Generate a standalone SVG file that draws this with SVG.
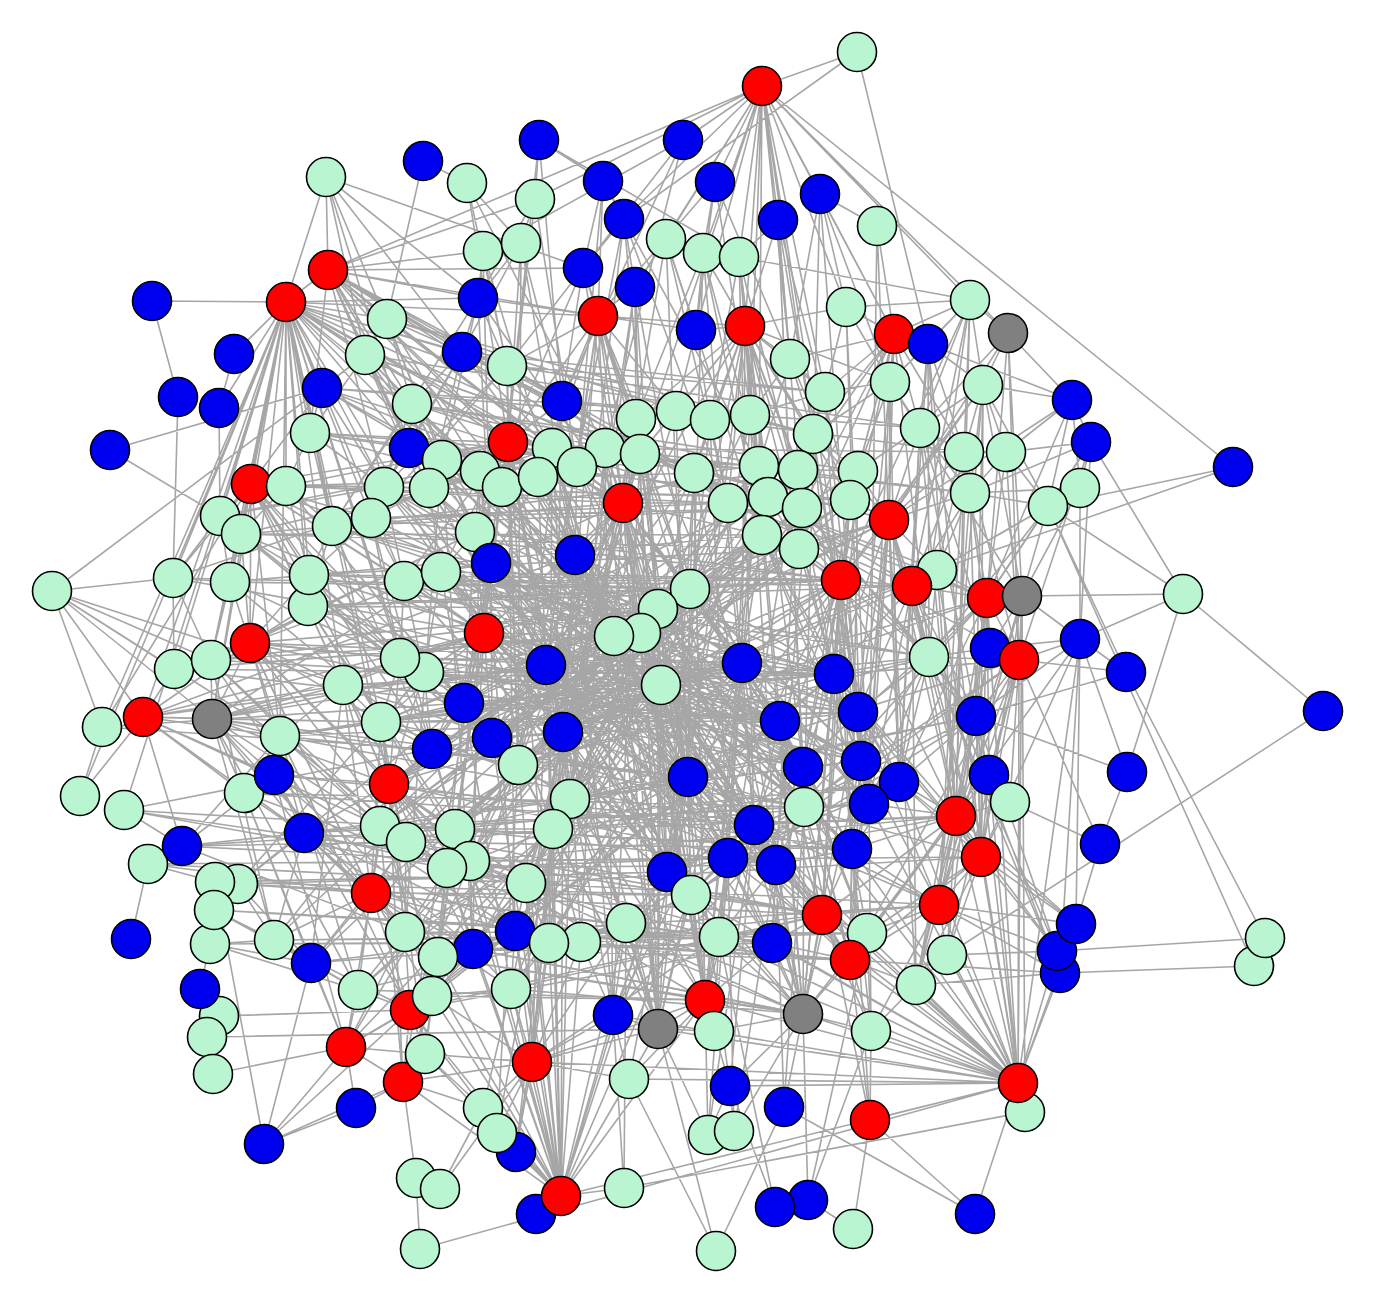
<svg xmlns="http://www.w3.org/2000/svg" width="1376" height="1304" viewBox="0 0 1376 1304">
<style>
.e{fill:none;stroke:#a6a6a6;stroke-width:1.6;stroke-linejoin:round;stroke-linecap:round}
circle{stroke:#000;stroke-width:1.6}
.m{fill:#b8f5d0}.b{fill:#0000f0}.r{fill:#ff0000}.g{fill:#808080}
</style>
<rect width="1376" height="1304" fill="#ffffff"/>
<g id="edges">
<path class="e" d="M762 86L857 52L624 219M928 344L857 52
M328 270L762 86L683 140M715 182L762 86L624 219M666 239L762 86L703 253M739 257L762 86L778 220M820 194L762 86L846 307M894 334L762 86L745 326M790 359L762 86L825 392M1008 333L762 86L970 300M1233 467L762 86L750 415M696 330L762 86L813 434M635 287L762 86L535 199M759 466L762 86L623 503M841 580L762 86
M603 181L539 140L535 199M739 257L539 140
M483 251L683 140L583 268
M387 319L423 161L467 183
M286 302L326 177L328 270M583 268L326 177L462 352M365 355L326 177L478 298
M521 243L467 183L507 366
M624 219L603 181L598 316M583 268L603 181
M703 253L715 182L666 239M696 330L715 182
M846 307L820 194L890 382M790 359L820 194L894 334
M521 243L535 199L328 270M478 298L535 199
M635 287L624 219L583 268
M739 257L778 220L745 326M790 359L778 220L813 434
M894 334L877 226L820 194
M635 287L666 239L598 316M696 330L666 239
M478 298L521 243L462 352M508 442L521 243L562 401
M478 298L483 251L328 270M507 366L483 251
M696 330L703 253L745 326M636 419L703 253
M745 326L739 257L710 420M739 257L970 300
M286 302L328 270L387 319M365 355L328 270L478 298M462 352L328 270L507 366M583 268L328 270L598 316M562 401L328 270L508 442M310 433L328 270L412 404M384 487L328 270L552 448M605 448L328 270L640 454M623 503L328 270L575 555M484 633L328 270
M598 316L583 268L507 366M562 401L583 268L508 442
M598 316L635 287L636 419M640 454L635 287
M286 302L152 301L178 397
"/>
<path class="e" d="M234 354L286 302L322 388M219 408L286 302L251 484M220 516L286 302L241 534M173 578L286 302L230 582M250 643L286 302L211 660M174 669L286 302L143 717M212 719L286 302L387 319M365 355L286 302L412 404M478 298L286 302L462 352M507 366L286 302L409 448M442 460L286 302L508 442M562 401L286 302L552 448M605 448L286 302L598 316M577 467L286 302L480 471M310 433L286 302L286 486M384 487L286 302L332 526M371 518L286 302L309 575M308 606L286 302L280 736M381 722L286 302L343 685M102 727L286 302L80 796M124 810L286 302L484 633M404 581L286 302L400 658M389 784L286 302L432 749
M462 352L478 298L507 366M598 316L478 298
M890 382L846 307L825 392M894 334L846 307L745 326
M928 344L970 300L894 334M983 385L970 300L890 382M920 428L970 300L846 307M964 452L970 300
M507 366L598 316L562 401M636 419L598 316L676 411M508 442L598 316L552 448M605 448L598 316L640 454M577 467L598 316L623 503M745 326L598 316L696 330M742 663L598 316L688 777M546 665L598 316L563 732M690 589L598 316
M365 355L387 319L462 352M412 404L387 319
M745 326L696 330L676 411M710 420L696 330
M790 359L745 326L825 392M710 420L745 326L750 415M813 434L745 326L676 411M759 466L745 326L798 470M694 473L745 326L728 503M768 497L745 326L640 454M890 382L745 326L762 535M802 508L745 326L850 500M841 580L745 326L636 419M742 663L745 326L780 721M690 589L745 326L834 674
M928 344L894 334L890 382M825 392L894 334L813 434M920 428L894 334L790 359M858 471L894 334L850 500M889 520L894 334L964 452M798 470L894 334L802 508M841 580L894 334L799 549
M890 382L928 344L983 385M920 428L928 344L1072 400M964 452L928 344
M1072 400L1008 333L920 428M1022 596L1008 333L970 300M983 385L1008 333L987 598M1019 660L1008 333L889 520
M219 408L234 354
M322 388L365 355L412 404M310 433L365 355L409 448M442 460L365 355
M507 366L462 352L412 404M409 448L462 352
M562 401L507 366L508 442M552 448L507 366
M825 392L790 359L750 415M813 434L790 359L759 466
M310 433L322 388L110 450M52 591L322 388L251 484M384 487L322 388
M178 397L173 578M219 408L220 516
M825 392L890 382L920 428M813 434L890 382L858 471
M1072 400L983 385L920 428M964 452L983 385L1006 452M970 493L983 385L1048 506
M813 434L825 392L798 470M750 415L825 392
M1006 452L1072 400L1080 488M1048 506L1072 400
M508 442L562 401L552 448M605 448L562 401L577 467
M409 448L412 404L442 460M384 487L412 404L429 488
M676 411L636 419L605 448M640 454L636 419L623 503
M710 420L676 411L640 454M694 473L676 411
M750 415L710 420L694 473M728 503L710 420
M759 466L750 415L768 497
M286 486L310 433L384 487M332 526L310 433
M798 470L813 434L858 471M802 508L813 434
M964 452L920 428L858 471M889 520L920 428L970 493
M1072 400L1091 442L1006 452M1080 488L1091 442L1048 506M1183 594L1091 442L1019 660M1080 639L1091 442
M110 450L220 516
M442 460L409 448L384 487M429 488L409 448L480 471
"/>
<path class="e" d="M552 448L508 442L442 460M480 471L508 442L502 487M538 477L508 442L577 467M429 488L508 442L475 532M491 563L508 442L575 555M484 633L508 442L441 572M404 581L508 442L623 503M605 448L508 442L546 665M563 732L508 442L464 703M518 765L508 442
M605 448L552 448L538 477M577 467L552 448L623 503M575 555L552 448L614 636
M640 454L605 448L577 467M623 503L605 448
M694 473L640 454L623 503M690 589L640 454L658 609
M480 471L442 460L429 488M475 532L442 460
M1006 452L964 452L970 493M889 520L964 452L937 570
M970 493L1006 452L1048 506M987 598L1006 452
M1048 506L1233 467L937 570
M286 486L251 484L220 516M241 534L251 484L332 526M173 578L251 484L230 582M309 575L251 484L308 606M250 643L251 484L211 660M384 487L251 484L371 518M404 581L251 484L400 658M343 685L251 484L280 736M212 719L251 484L484 633M389 784L251 484L381 722M432 749L251 484
M384 487L286 486L241 534M332 526L286 486L309 575
M502 487L480 471L538 477M429 488L480 471L475 532M491 563L480 471
M538 477L502 487L475 532M491 563L502 487L575 555
M577 467L538 477L623 503M491 563L538 477L575 555M546 665L538 477L614 636
M623 503L577 467L575 555
M429 488L384 487L332 526M371 518L384 487L404 581
M371 518L429 488L475 532M441 572L429 488
M759 466L694 473L623 503M728 503L694 473L690 589M762 535L694 473L658 609
M798 470L759 466L728 503M768 497L759 466
M768 497L798 470L802 508M850 500L798 470
M850 500L858 471L889 520M802 508L858 471
M1048 506L970 493L889 520M937 570L970 493L987 598
M1048 506L1080 488L1022 596M1080 639L1080 488
M1183 594L1048 506L987 598M1022 596L1048 506L1126 672M1254 966L1048 506
M575 555L623 503L690 589M658 609L623 503L641 633M614 636L623 503L728 503M491 563L623 503L484 633M546 665L623 503L661 685M742 663L623 503L762 535M688 777L623 503L754 825M780 721L623 503L563 732M667 872L623 503L464 703M492 738L623 503L518 765
M768 497L728 503L762 535M690 589L728 503L742 663
M802 508L768 497L762 535M799 549L768 497L841 580M742 663L768 497
M850 500L802 508L799 549M841 580L802 508L834 674M762 535L802 508
M889 520L850 500L841 580M834 674L850 500L799 549
M841 580L889 520L912 586M937 570L889 520L929 657M834 674L889 520L858 712M799 549L889 520L890 382M813 434L889 520L899 782M869 804L889 520L852 849
M241 534L220 516L173 578M230 582L220 516
M230 582L241 534L309 575M250 643L241 534
M371 518L332 526L309 575M308 606L332 526
M404 581L371 518L309 575
M491 563L475 532L441 572M484 633L475 532L464 703M546 665L475 532
M799 549L762 535L690 589M841 580L762 535L742 663M834 674L762 535
M841 580L799 549L834 674
M441 572L491 563L484 633M546 665L491 563L464 703M492 738L491 563
M614 636L575 555L658 609M546 665L575 555L563 732M661 685L575 555
M173 578L52 591L211 660M174 669L52 591L143 717M102 727L52 591L212 719M343 685L52 591L280 736
M230 582L173 578L211 660M174 669L173 578
M250 643L230 582L211 660
M308 606L309 575L250 643
M250 643L308 606L400 658
M441 572L404 581L484 633M400 658L404 581L424 672
M484 633L441 572L424 672M464 703L441 572L546 665
M658 609L690 589L742 663M661 685L690 589L688 777M780 721L690 589L834 674M841 580L690 589
"/>
<path class="e" d="M912 586L841 580L742 663M834 674L841 580L858 712M780 721L841 580L861 761M803 767L841 580L929 657M688 777L841 580L754 825M804 807L841 580L852 849M822 915L841 580
M937 570L912 586L987 598M929 657L912 586L834 674M858 712L912 586L976 716M899 782L912 586L964 452M970 493L912 586L920 428M956 816L912 586L869 804M981 857L912 586
M987 598L937 570L929 657
M1022 596L987 598L990 648M1019 660L987 598L929 657M976 716L987 598L989 775M956 816L987 598L981 857M899 782L987 598
M1183 594L1022 596L1080 639M1019 660L1022 596L990 648M1025 1112L1022 596L956 816M981 857L1022 596L939 905M1018 1083L1022 596
M1080 639L1183 594L1323 711M1127 772L1183 594
M641 633L658 609L614 636M661 685L658 609L742 663M688 777L658 609L546 665
M614 636L641 633L546 665M661 685L641 633L563 732M688 777L641 633
M546 665L614 636L484 633M563 732L614 636L492 738
M400 658L484 633L424 672M546 665L484 633L464 703M492 738L484 633L563 732M381 722L484 633L432 749M343 685L484 633L688 777M570 799L484 633L553 829M470 861L484 633L667 872
M211 660L250 643L174 669M343 685L250 643L212 719M280 736L250 643L143 717M400 658L250 643L389 784M304 833L250 643L371 893M381 722L250 643
M174 669L211 660L212 719M174 669L143 717
M424 672L400 658L343 685M381 722L400 658L389 784
M464 703L424 672L381 722M432 749L424 672L389 784
M1019 660L1080 639L990 648M1126 672L1080 639L1127 772M976 716L1080 639L1076 924M1060 973L1080 639L1018 1083
M1019 660L990 648L929 657M976 716L990 648
M929 657L1019 660L976 716M989 775L1019 660L1010 802M1018 1083L1019 660L1126 672M981 857L1019 660L956 816M939 905L1019 660L1100 844
M834 674L929 657L858 712M899 782L929 657L861 761M869 804L929 657L976 716
M464 703L546 665L492 738M563 732L546 665L688 777M570 799L546 665L553 829M518 765L546 665
M834 674L742 663L661 685M780 721L742 663L688 777M754 825L742 663L728 858M667 872L742 663L803 767
M858 712L834 674L780 721M861 761L834 674L803 767M869 804L834 674
M976 716L1126 672L1265 938
M381 722L343 685L280 736M212 719L343 685L389 784
M688 777L661 685L563 732M780 721L661 685L667 872
M381 722L464 703L492 738M432 749L464 703L518 765
M212 719L143 717L280 736M381 722L143 717L343 685M274 775L143 717L244 793M304 833L143 717L380 826M80 796L143 717L182 846
M280 736L212 719L381 722M389 784L212 719L304 833M371 893L212 719L406 842M447 868L212 719L274 775M244 793L212 719
M80 796L102 727L251 484
M280 736L381 722L389 784M432 749L381 722
M780 721L858 712L861 761M803 767L858 712L899 782M869 804L858 712
M899 782L976 716L989 775M956 816L976 716L1127 772
M1323 711L947 955
M803 767L780 721L688 777M804 807L780 721L754 825
M563 732L492 738L432 749M518 765L492 738L389 784
M518 765L563 732L570 799M553 829L563 732L688 777
M274 775L280 736L244 793M182 846L280 736
M389 784L432 749L380 826M455 829L432 749L518 765
M570 799L518 765L455 829M553 829L518 765L470 861
M803 767L861 761L899 782M804 807L861 761L869 804M852 849L861 761
M804 807L803 767L754 825M776 865L803 767
M570 799L688 777L754 825M728 858L688 777L667 872M691 895L688 777
M869 804L899 782L956 816M852 849L899 782L981 857M1076 924L899 782
M956 816L989 775L1010 802M981 857L989 775
M1127 772L1100 844
M244 793L274 775L389 784M304 833L274 775L182 846
M304 833L389 784L380 826M406 842L389 784L455 829M470 861L389 784L447 868M371 893L389 784L405 932M473 949L389 784L515 931M526 883L389 784
M182 846L124 810L447 868M470 861L124 810
M553 829L570 799L667 872M526 883L570 799L626 923
M869 804L804 807L754 825M852 849L804 807L776 865
M956 816L869 804L852 849
"/>
<path class="e" d="M1010 802L956 816L852 849M981 857L956 816L939 905M822 915L956 816L867 933M850 960L956 816L947 955M916 985L956 816L1076 924M1057 951L956 816L1018 1083
M1100 844L1010 802L981 857
M380 826L304 833L406 842M182 846L304 833L238 884M371 893L304 833L274 940
M455 829L380 826L406 842M371 893L380 826
M406 842L455 829L470 861M447 868L455 829L553 829
M447 868L406 842L371 893M405 932L406 842
M470 861L553 829L526 883M549 943L553 829L581 942
M728 858L754 825L776 865M691 895L754 825
M182 846L148 864
M131 939L148 864L371 893M215 882L148 864
M776 865L852 849L822 915M867 933L852 849L850 960
M1100 844L1076 924
M939 905L981 857L1076 924M1057 951L981 857L947 955M916 985L981 857L1018 1083M850 960L981 857L867 933
M447 868L470 861L526 883M515 931L470 861L473 949
M405 932L447 868L473 949M438 957L447 868
M776 865L728 858L667 872M691 895L728 858L719 937M772 943L728 858
M822 915L776 865L772 943M719 937L776 865
M691 895L667 872L626 923M613 1015L667 872
M215 882L238 884L371 893M274 940L238 884L311 963
M214 910L215 882L264 1144
M626 923L691 895L719 937M705 1000L691 895L658 1029
M274 940L371 893L405 932M311 963L371 893L358 990M438 957L371 893L473 949M410 1010L371 893L346 1047M432 996L371 893L515 931M511 989L371 893
M210 944L214 910L274 940M311 963L214 910
M822 915L939 905L867 933M850 960L939 905L947 955M916 985L939 905L1076 924M1057 951L939 905L1060 973M1018 1083L939 905L871 1031M852 849L939 905
M772 943L822 915L867 933M850 960L822 915L803 1014M871 1031L822 915L719 937M754 825L822 915L688 777M780 721L822 915
M1265 938L1057 951L947 955
M1254 966L1060 973L916 985M850 960L1060 973L1018 1083
M274 940L210 944L200 989M311 963L210 944L358 990
M311 963L274 940L358 990M410 1010L274 940
M438 957L405 932L358 990M410 1010L405 932L473 949
M549 943L515 931L473 949M511 989L515 931L532 1062M526 883L515 931
M526 883L626 923L581 942M613 1015L626 923L658 1029
M526 883L549 943L581 942M511 989L549 943L532 1062
M526 883L581 942L613 1015M532 1062L581 942
M438 957L473 949L511 989M410 1010L473 949L432 996
M772 943L719 937L705 1000M803 1014L719 937L714 1031
M803 1014L772 943L705 1000M850 960L772 943
M850 960L867 933L803 1014M871 1031L867 933
M916 985L850 960L803 1014M871 1031L850 960L1018 1083M870 1120L850 960L754 825M803 767L850 960L804 807
M916 985L947 955L1018 1083
M358 990L311 963L346 1047M264 1144L311 963
M410 1010L438 957L432 996
M410 1010L358 990L346 1047
M432 996L511 989L532 1062M483 1108L511 989
M871 1031L916 985L1018 1083
M200 989L219 1016M410 1010L219 1016L207 1037
M658 1029L207 1037L213 1074
M432 996L410 1010L346 1047M425 1054L410 1010L403 1082M264 1144L410 1010L483 1108M526 883L410 1010L470 861
M425 1054L432 996L532 1062
M658 1029L613 1015L532 1062M629 1079L613 1015L561 1196
"/>
<path class="e" d="M658 1029L705 1000L803 1014M714 1031L705 1000L629 1079M730 1086L705 1000L708 1135M570 799L705 1000L563 732M661 685L705 1000L742 663M641 633L705 1000L688 777M754 825L705 1000L728 858
M714 1031L658 1029L532 1062M629 1079L658 1029L708 1135M716 1251L658 1029L688 777M563 732L658 1029L570 799M553 829L658 1029L518 765M546 665L658 1029L661 685M742 663L658 1029L658 609M614 636L658 1029
M714 1031L803 1014L871 1031M730 1086L803 1014L784 1107M734 1131L803 1014L776 865M808 1200L803 1014L754 825M804 807L803 1014L688 777M858 712L803 1014L861 761M834 674L803 1014L841 580M780 721L803 1014L742 663
M714 1031L730 1086
M870 1120L871 1031L1018 1083M808 1200L871 1031
M425 1054L346 1047L213 1074M403 1082L346 1047L356 1108M264 1144L346 1047L432 996M405 932L346 1047
M403 1082L425 1054L532 1062M483 1108L425 1054
M483 1108L532 1062L497 1133M516 1152L532 1062L561 1196M629 1079L532 1062L626 923M403 1082L532 1062L526 883M553 829L532 1062
M356 1108L403 1082L264 1144M416 1178L403 1082L483 1108M432 996L403 1082
M716 1251L629 1079L561 1196
M708 1135L730 1086L734 1131M775 1207L730 1086
M1025 1112L1018 1083L975 1214M1076 924L1018 1083L1057 951M772 943L1018 1083L719 937M705 1000L1018 1083L658 1029M613 1015L1018 1083L626 923M691 895L1018 1083L776 865M728 858L1018 1083L852 849M869 804L1018 1083L899 782M989 775L1018 1083L976 716M990 648L1018 1083L987 598M730 1086L1018 1083L629 1079M532 1062L1018 1083L420 1249M561 1196L1018 1083L754 825M688 777L1018 1083L804 807M870 1120L1018 1083L803 1014M822 915L1018 1083
M1025 1112L624 1188
M497 1133L483 1108L440 1189M561 1196L483 1108
M975 1214L784 1107L716 1251
M853 1229L870 1120L975 1214
M516 1152L497 1133L561 1196
M264 1144L356 1108M416 1178L420 1249M440 1189L532 1062
M536 1214L561 1196L624 1188M511 989L561 1196L515 931M473 949L561 1196L549 943M581 942L561 1196L526 883M470 861L561 1196L553 829M570 799L561 1196L518 765M563 732L561 1196L492 738M546 665L561 1196L626 923M658 1029L561 1196L705 1000M667 872L561 1196L691 895M688 777L561 1196L438 957M405 932L561 1196L432 996M410 1010L561 1196L425 1054M403 1082L561 1196L455 829M447 868L561 1196
M613 1015L624 1188L626 923
M853 1229L808 1200L867 933
M775 1207L719 937
"/>
<path class="e" d="M508 442L688 777L640 454L563 732L694 473L546 665L768 497L484 633L889 520L690 589L492 738L802 508L518 765L834 674L575 555L754 825L538 477L728 858L605 448L570 799L798 470L464 703L762 535L455 829L841 580L553 829L750 415L667 872L552 448L691 895L676 411L526 883
M412 404L546 665L384 487L661 685L429 488L688 777L442 460L641 633L409 448L742 663L404 581L780 721L441 572L803 767L475 532L804 807L491 563L861 761L484 633L858 712L424 672L834 674L400 658L658 609L381 722L690 589L432 749L762 535L389 784L799 549L380 826L802 508
M507 366L518 765L562 401L553 829L636 419L667 872L710 420L728 858L750 415L776 865L813 434L852 849L825 392L869 804L890 382L899 782L920 428L956 816L964 452L939 905L970 493L981 857L889 520L850 960L858 471L822 915L850 500L772 943L798 470L719 937L759 466L705 1000L694 473L658 1029L640 454L613 1015L605 448L581 942L552 448L549 943L508 442L515 931L480 471L473 949L442 460L405 932
M251 484L858 712L384 487L861 761L371 518L841 580L332 526L834 674L309 575L780 721L308 606L803 767L250 643L742 663L343 685L754 825L280 736L688 777L212 719L804 807L381 722L776 865L389 784L852 849L380 826L822 915L406 842L772 943L371 893L719 937L447 868L803 1014L470 861L705 1000
M912 586L563 732L937 570L492 738L987 598L518 765L929 657L464 703L1019 660L570 799L976 716L455 829L899 782L553 829L956 816L470 861L981 857L526 883L939 905L515 931L850 960L549 943L867 933L581 942L822 915L511 989L803 1014L473 949L772 943L410 1010L719 937L532 1062L705 1000L432 996
M521 243L575 555L483 251L491 563L478 298L623 503L583 268L690 589L635 287L658 609L624 219L728 503L666 239L762 535L703 253L768 497L739 257L802 508L778 220L850 500L715 182L759 466L603 181L577 467L535 199L502 487L539 140L562 401L683 140L605 448L467 183L508 442
M387 319L623 503L365 355L640 454L462 352L694 473L507 366L728 503L412 404L605 448L310 433L577 467L322 388L538 477L328 270L475 532L326 177L409 448
M894 334L929 657L928 344L912 586L970 300L841 580L983 385L889 520L1072 400L987 598L1091 442L970 493L1080 488L937 570L1048 506L929 657
M1006 452L1019 660L964 452L990 648L920 428L976 716L983 385L1022 596L890 382L858 712L813 434L861 761
M981 857L688 777L939 905L754 825L956 816L728 858L899 782L667 872L976 716L691 895L1019 660L626 923L987 598L613 1015
M371 893L563 732L389 784L546 665L380 826L641 633L406 842L661 685L455 829L690 589L405 932L688 777L410 1010L570 799L358 990L553 829L346 1047L518 765L311 963L492 738L274 940L464 703L238 884L424 672
M143 717L484 633L212 719L441 572L250 643L475 532L211 660L424 672L174 669L464 703L102 727L432 749L124 810L455 829L182 846L470 861L148 864L526 883L304 833L515 931L274 775L473 949L244 793L447 868
M532 1062L563 732L511 989L464 703L432 996L484 633L425 1054L491 563L403 1082L518 765L497 1133L553 829L516 1152L570 799
M629 1079L688 777L730 1086L754 825L708 1135L728 858L734 1131L776 865L784 1107L804 807L870 1120L852 849L871 1031L869 804
M598 316L688 777L745 326L546 665L623 503L754 825L508 442L728 858L484 633L822 915
M251 484L508 442L286 486L623 503L241 534L605 448L220 516L552 448L173 578L484 633
M404 581L841 580L441 572L834 674L400 658L742 663L343 685L780 721L381 722L858 712L280 736L661 685L309 575L690 589L308 606L658 609L332 526L641 633
"/>
<path class="e" d="M310 433L759 466L409 448L768 497L384 487L850 500L442 460L858 471L412 404L798 470L332 526L802 508L371 518L728 503L286 486L694 473L365 355L750 415L322 388L710 420L387 319L813 434L462 352L825 392L507 366L920 428L562 401L964 452L552 448L970 493L605 448L889 520L640 454L937 570
M173 578L690 589L230 582L762 535L241 534L799 549L309 575L841 580L308 606L912 586L404 581L929 657L441 572L858 712L400 658L861 761L424 672L780 721L343 685L834 674L381 722L742 663L280 736L661 685L250 643L658 609L211 660L641 633L174 669L614 636L212 719L546 665L143 717L575 555
M274 775L754 825L244 793L804 807L304 833L803 767L380 826L869 804L406 842L852 849L455 829L776 865L447 868L728 858L470 861L822 915L238 884L667 872L215 882L691 895L371 893L772 943L214 910L719 937L274 940L867 933L405 932L850 960L473 949L803 1014L438 957L705 1000L358 990L626 923L311 963L581 942L210 944L549 943
M521 243L518 765L624 219L553 829L635 287L570 799L666 239L688 777L703 253L754 825L739 257L803 767L778 220L804 807L820 194L861 761L846 307L869 804L877 226L899 782L970 300L956 816L928 344L981 857L983 385L939 905
M389 784L889 520L432 749L850 500L492 738L841 580L518 765L799 549L455 829L762 535L553 829L768 497L470 861L728 503L526 883L759 466L515 931L798 470L549 943L802 508L473 949L690 589L511 989L742 663L410 1010L780 721L432 996L834 674
M442 460L852 849L480 471L776 865L502 487L728 858L538 477L822 915L577 467L772 943L475 532L719 937L491 563L850 960L441 572L803 1014L404 581L691 895L429 488L667 872L384 487L754 825L409 448L803 767L412 404L804 807L462 352L861 761
M546 665L688 777L614 636L754 825L641 633L570 799L658 609L553 829L661 685L518 765L690 589L563 732L742 663L492 738L780 721L464 703L803 767L484 633L804 807L475 532L728 858L491 563L667 872L575 555L691 895L623 503L526 883L640 454L470 861
M841 580L956 816L834 674L981 857L858 712L939 905L861 761L850 960L803 767L867 933L780 721L822 915L742 663L852 849L690 589L869 804L762 535L899 782L799 549L976 716L802 508L929 657L768 497L912 586L728 503L987 598L694 473L1019 660
M251 484L464 703L286 486L492 738L241 534L484 633L332 526L432 749L230 582L424 672L309 575L518 765L220 516L400 658L371 518L455 829L308 606L470 861L250 643L406 842L211 660L380 826L280 736L447 868L343 685L371 893L381 722L405 932
M658 1029L623 503L705 1000L640 454L803 1014L841 580L613 1015L575 555L532 1062L546 665
M613 1015L508 442L658 1029L605 448L705 1000L694 473L803 1014L762 535
"/>
<path class="e" d="M1022 596L939 905L990 648L916 985L987 598L947 955L1019 660L850 960L1080 639L981 857L976 716L1057 951L929 657L1060 973L912 586L916 985L889 520L956 816L937 570L1018 1083
M250 643L371 893L211 660L274 940L212 719L358 990L280 736L410 1010L274 775L346 1047L244 793L311 963L343 685L432 996L381 722L425 1054L389 784L403 1082L380 826L438 957L304 833L405 932L182 846L406 842
M365 355L480 471L387 319L442 460L322 388L502 487L310 433L409 448L328 270L429 488L462 352L384 487L507 366L371 518L412 404L332 526L478 298L442 460
M762 535L861 761L690 589L803 767L658 609L804 807L661 685L869 804L742 663L852 849L641 633L754 825L614 636L776 865L546 665L728 858L688 777L822 915
"/>
</g>
<g id="nodes">
<g id="n1"><circle class="m" cx="857" cy="52" r="19.5"/></g>
<g id="n2"><circle class="r" cx="762" cy="86" r="19.5"/></g>
<g id="n3"><circle class="b" cx="539" cy="140" r="19.5"/></g>
<g id="n4"><circle class="b" cx="683" cy="140" r="19.5"/></g>
<g id="n5"><circle class="b" cx="423" cy="161" r="19.5"/></g>
<g id="n6"><circle class="m" cx="326" cy="177" r="19.5"/></g>
<g id="n7"><circle class="m" cx="467" cy="183" r="19.5"/></g>
<g id="n8"><circle class="b" cx="603" cy="181" r="19.5"/></g>
<g id="n9"><circle class="b" cx="715" cy="182" r="19.5"/></g>
<g id="n10"><circle class="b" cx="820" cy="194" r="19.5"/></g>
<g id="n11"><circle class="m" cx="535" cy="199" r="19.5"/></g>
<g id="n12"><circle class="b" cx="624" cy="219" r="19.5"/></g>
<g id="n13"><circle class="b" cx="778" cy="220" r="19.5"/></g>
<g id="n14"><circle class="m" cx="877" cy="226" r="19.5"/></g>
<g id="n15"><circle class="m" cx="666" cy="239" r="19.5"/></g>
<g id="n17"><circle class="m" cx="483" cy="251" r="19.5"/></g>
<g id="n16"><circle class="m" cx="521" cy="243" r="19.5"/></g>
<g id="n18"><circle class="m" cx="703" cy="253" r="19.5"/></g>
<g id="n19"><circle class="m" cx="739" cy="257" r="19.5"/></g>
<g id="n20"><circle class="r" cx="328" cy="270" r="19.5"/></g>
<g id="n21"><circle class="b" cx="583" cy="268" r="19.5"/></g>
<g id="n22"><circle class="b" cx="635" cy="287" r="19.5"/></g>
<g id="n23"><circle class="b" cx="152" cy="301" r="19.5"/></g>
<g id="n24"><circle class="r" cx="286" cy="302" r="19.5"/></g>
<g id="n25"><circle class="b" cx="478" cy="298" r="19.5"/></g>
<g id="n26"><circle class="m" cx="846" cy="307" r="19.5"/></g>
<g id="n27"><circle class="m" cx="970" cy="300" r="19.5"/></g>
<g id="n28"><circle class="r" cx="598" cy="316" r="19.5"/></g>
<g id="n29"><circle class="m" cx="387" cy="319" r="19.5"/></g>
<g id="n30"><circle class="b" cx="696" cy="330" r="19.5"/></g>
<g id="n31"><circle class="r" cx="745" cy="326" r="19.5"/></g>
<g id="n32"><circle class="r" cx="894" cy="334" r="19.5"/></g>
<g id="n33"><circle class="b" cx="928" cy="344" r="19.5"/></g>
<g id="n34"><circle class="g" cx="1008" cy="333" r="19.5"/></g>
<g id="n35"><circle class="b" cx="234" cy="354" r="19.5"/></g>
<g id="n36"><circle class="m" cx="365" cy="355" r="19.5"/></g>
<g id="n37"><circle class="b" cx="462" cy="352" r="19.5"/></g>
<g id="n38"><circle class="m" cx="507" cy="366" r="19.5"/></g>
<g id="n39"><circle class="m" cx="790" cy="359" r="19.5"/></g>
<g id="n40"><circle class="b" cx="322" cy="388" r="19.5"/></g>
<g id="n41"><circle class="b" cx="178" cy="397" r="19.5"/></g>
<g id="n42"><circle class="b" cx="219" cy="408" r="19.5"/></g>
<g id="n43"><circle class="m" cx="890" cy="382" r="19.5"/></g>
<g id="n44"><circle class="m" cx="983" cy="385" r="19.5"/></g>
<g id="n45"><circle class="m" cx="825" cy="392" r="19.5"/></g>
<g id="n46"><circle class="b" cx="1072" cy="400" r="19.5"/></g>
<g id="n47"><circle class="b" cx="562" cy="401" r="19.5"/></g>
<g id="n48"><circle class="m" cx="412" cy="404" r="19.5"/></g>
<g id="n49"><circle class="m" cx="636" cy="419" r="19.5"/></g>
<g id="n50"><circle class="m" cx="676" cy="411" r="19.5"/></g>
<g id="n51"><circle class="m" cx="710" cy="420" r="19.5"/></g>
<g id="n52"><circle class="m" cx="750" cy="415" r="19.5"/></g>
<g id="n53"><circle class="m" cx="310" cy="433" r="19.5"/></g>
<g id="n54"><circle class="m" cx="813" cy="434" r="19.5"/></g>
<g id="n55"><circle class="m" cx="920" cy="428" r="19.5"/></g>
<g id="n56"><circle class="b" cx="1091" cy="442" r="19.5"/></g>
<g id="n57"><circle class="b" cx="110" cy="450" r="19.5"/></g>
<g id="n58"><circle class="b" cx="409" cy="448" r="19.5"/></g>
<g id="n59"><circle class="r" cx="508" cy="442" r="19.5"/></g>
<g id="n60"><circle class="m" cx="552" cy="448" r="19.5"/></g>
<g id="n61"><circle class="m" cx="605" cy="448" r="19.5"/></g>
<g id="n62"><circle class="m" cx="640" cy="454" r="19.5"/></g>
<g id="n63"><circle class="m" cx="442" cy="460" r="19.5"/></g>
<g id="n64"><circle class="m" cx="964" cy="452" r="19.5"/></g>
<g id="n65"><circle class="m" cx="1006" cy="452" r="19.5"/></g>
<g id="n66"><circle class="b" cx="1233" cy="467" r="19.5"/></g>
<g id="n67"><circle class="r" cx="251" cy="484" r="19.5"/></g>
<g id="n68"><circle class="m" cx="286" cy="486" r="19.5"/></g>
<g id="n69"><circle class="m" cx="480" cy="471" r="19.5"/></g>
<g id="n70"><circle class="m" cx="502" cy="487" r="19.5"/></g>
<g id="n71"><circle class="m" cx="538" cy="477" r="19.5"/></g>
<g id="n72"><circle class="m" cx="577" cy="467" r="19.5"/></g>
<g id="n73"><circle class="m" cx="384" cy="487" r="19.5"/></g>
<g id="n74"><circle class="m" cx="429" cy="488" r="19.5"/></g>
<g id="n75"><circle class="m" cx="694" cy="473" r="19.5"/></g>
<g id="n76"><circle class="m" cx="759" cy="466" r="19.5"/></g>
<g id="n77"><circle class="m" cx="798" cy="470" r="19.5"/></g>
<g id="n78"><circle class="m" cx="858" cy="471" r="19.5"/></g>
<g id="n79"><circle class="m" cx="970" cy="493" r="19.5"/></g>
<g id="n80"><circle class="m" cx="1080" cy="488" r="19.5"/></g>
<g id="n81"><circle class="m" cx="1048" cy="506" r="19.5"/></g>
<g id="n82"><circle class="r" cx="623" cy="503" r="19.5"/></g>
<g id="n83"><circle class="m" cx="728" cy="503" r="19.5"/></g>
<g id="n84"><circle class="m" cx="768" cy="497" r="19.5"/></g>
<g id="n85"><circle class="m" cx="802" cy="508" r="19.5"/></g>
<g id="n86"><circle class="m" cx="850" cy="500" r="19.5"/></g>
<g id="n87"><circle class="r" cx="889" cy="520" r="19.5"/></g>
<g id="n88"><circle class="m" cx="220" cy="516" r="19.5"/></g>
<g id="n89"><circle class="m" cx="241" cy="534" r="19.5"/></g>
<g id="n90"><circle class="m" cx="332" cy="526" r="19.5"/></g>
<g id="n91"><circle class="m" cx="371" cy="518" r="19.5"/></g>
<g id="n92"><circle class="m" cx="475" cy="532" r="19.5"/></g>
<g id="n93"><circle class="m" cx="762" cy="535" r="19.5"/></g>
<g id="n94"><circle class="m" cx="799" cy="549" r="19.5"/></g>
<g id="n95"><circle class="b" cx="491" cy="563" r="19.5"/></g>
<g id="n96"><circle class="b" cx="575" cy="555" r="19.5"/></g>
<g id="n97"><circle class="m" cx="52" cy="591" r="19.5"/></g>
<g id="n98"><circle class="m" cx="173" cy="578" r="19.5"/></g>
<g id="n99"><circle class="m" cx="230" cy="582" r="19.5"/></g>
<g id="n101"><circle class="m" cx="308" cy="606" r="19.5"/></g>
<g id="n100"><circle class="m" cx="309" cy="575" r="19.5"/></g>
<g id="n102"><circle class="m" cx="404" cy="581" r="19.5"/></g>
<g id="n103"><circle class="m" cx="441" cy="572" r="19.5"/></g>
<g id="n104"><circle class="m" cx="690" cy="589" r="19.5"/></g>
<g id="n105"><circle class="r" cx="841" cy="580" r="19.5"/></g>
<g id="n107"><circle class="m" cx="937" cy="570" r="19.5"/></g>
<g id="n106"><circle class="r" cx="912" cy="586" r="19.5"/></g>
<g id="n108"><circle class="r" cx="987" cy="598" r="19.5"/></g>
<g id="n109"><circle class="g" cx="1022" cy="596" r="19.5"/></g>
<g id="n110"><circle class="m" cx="1183" cy="594" r="19.5"/></g>
<g id="n111"><circle class="m" cx="658" cy="609" r="19.5"/></g>
<g id="n112"><circle class="m" cx="641" cy="633" r="19.5"/></g>
<g id="n113"><circle class="m" cx="614" cy="636" r="19.5"/></g>
<g id="n114"><circle class="r" cx="484" cy="633" r="19.5"/></g>
<g id="n115"><circle class="r" cx="250" cy="643" r="19.5"/></g>
<g id="n117"><circle class="m" cx="174" cy="669" r="19.5"/></g>
<g id="n116"><circle class="m" cx="211" cy="660" r="19.5"/></g>
<g id="n119"><circle class="m" cx="424" cy="672" r="19.5"/></g>
<g id="n118"><circle class="m" cx="400" cy="658" r="19.5"/></g>
<g id="n120"><circle class="b" cx="1080" cy="639" r="19.5"/></g>
<g id="n121"><circle class="b" cx="990" cy="648" r="19.5"/></g>
<g id="n122"><circle class="r" cx="1019" cy="660" r="19.5"/></g>
<g id="n123"><circle class="m" cx="929" cy="657" r="19.5"/></g>
<g id="n124"><circle class="b" cx="546" cy="665" r="19.5"/></g>
<g id="n125"><circle class="b" cx="742" cy="663" r="19.5"/></g>
<g id="n126"><circle class="b" cx="834" cy="674" r="19.5"/></g>
<g id="n127"><circle class="b" cx="1126" cy="672" r="19.5"/></g>
<g id="n128"><circle class="m" cx="343" cy="685" r="19.5"/></g>
<g id="n129"><circle class="m" cx="661" cy="685" r="19.5"/></g>
<g id="n130"><circle class="b" cx="464" cy="703" r="19.5"/></g>
<g id="n133"><circle class="m" cx="102" cy="727" r="19.5"/></g>
<g id="n131"><circle class="r" cx="143" cy="717" r="19.5"/></g>
<g id="n132"><circle class="g" cx="212" cy="719" r="19.5"/></g>
<g id="n134"><circle class="m" cx="381" cy="722" r="19.5"/></g>
<g id="n135"><circle class="b" cx="858" cy="712" r="19.5"/></g>
<g id="n136"><circle class="b" cx="976" cy="716" r="19.5"/></g>
<g id="n137"><circle class="b" cx="1323" cy="711" r="19.5"/></g>
<g id="n138"><circle class="b" cx="780" cy="721" r="19.5"/></g>
<g id="n139"><circle class="b" cx="492" cy="738" r="19.5"/></g>
<g id="n140"><circle class="b" cx="563" cy="732" r="19.5"/></g>
<g id="n141"><circle class="m" cx="280" cy="736" r="19.5"/></g>
<g id="n142"><circle class="b" cx="432" cy="749" r="19.5"/></g>
<g id="n143"><circle class="m" cx="518" cy="765" r="19.5"/></g>
<g id="n144"><circle class="b" cx="861" cy="761" r="19.5"/></g>
<g id="n145"><circle class="b" cx="803" cy="767" r="19.5"/></g>
<g id="n146"><circle class="b" cx="688" cy="777" r="19.5"/></g>
<g id="n147"><circle class="b" cx="899" cy="782" r="19.5"/></g>
<g id="n148"><circle class="b" cx="989" cy="775" r="19.5"/></g>
<g id="n149"><circle class="b" cx="1127" cy="772" r="19.5"/></g>
<g id="n152"><circle class="m" cx="244" cy="793" r="19.5"/></g>
<g id="n150"><circle class="b" cx="274" cy="775" r="19.5"/></g>
<g id="n151"><circle class="r" cx="389" cy="784" r="19.5"/></g>
<g id="n153"><circle class="m" cx="80" cy="796" r="19.5"/></g>
<g id="n154"><circle class="m" cx="124" cy="810" r="19.5"/></g>
<g id="n155"><circle class="m" cx="570" cy="799" r="19.5"/></g>
<g id="n156"><circle class="m" cx="804" cy="807" r="19.5"/></g>
<g id="n157"><circle class="b" cx="869" cy="804" r="19.5"/></g>
<g id="n158"><circle class="r" cx="956" cy="816" r="19.5"/></g>
<g id="n159"><circle class="m" cx="1010" cy="802" r="19.5"/></g>
<g id="n160"><circle class="b" cx="304" cy="833" r="19.5"/></g>
<g id="n161"><circle class="m" cx="380" cy="826" r="19.5"/></g>
<g id="n162"><circle class="m" cx="455" cy="829" r="19.5"/></g>
<g id="n163"><circle class="m" cx="406" cy="842" r="19.5"/></g>
<g id="n164"><circle class="m" cx="553" cy="829" r="19.5"/></g>
<g id="n165"><circle class="b" cx="754" cy="825" r="19.5"/></g>
<g id="n167"><circle class="m" cx="148" cy="864" r="19.5"/></g>
<g id="n166"><circle class="b" cx="182" cy="846" r="19.5"/></g>
<g id="n168"><circle class="b" cx="852" cy="849" r="19.5"/></g>
<g id="n169"><circle class="b" cx="1100" cy="844" r="19.5"/></g>
<g id="n170"><circle class="r" cx="981" cy="857" r="19.5"/></g>
<g id="n171"><circle class="m" cx="470" cy="861" r="19.5"/></g>
<g id="n172"><circle class="m" cx="447" cy="868" r="19.5"/></g>
<g id="n173"><circle class="b" cx="728" cy="858" r="19.5"/></g>
<g id="n174"><circle class="b" cx="776" cy="865" r="19.5"/></g>
<g id="n175"><circle class="b" cx="667" cy="872" r="19.5"/></g>
<g id="n176"><circle class="m" cx="238" cy="884" r="19.5"/></g>
<g id="n177"><circle class="m" cx="215" cy="882" r="19.5"/></g>
<g id="n178"><circle class="m" cx="526" cy="883" r="19.5"/></g>
<g id="n179"><circle class="m" cx="691" cy="895" r="19.5"/></g>
<g id="n180"><circle class="r" cx="371" cy="893" r="19.5"/></g>
<g id="n190"><circle class="m" cx="210" cy="944" r="19.5"/></g>
<g id="n181"><circle class="m" cx="214" cy="910" r="19.5"/></g>
<g id="n182"><circle class="r" cx="939" cy="905" r="19.5"/></g>
<g id="n183"><circle class="r" cx="822" cy="915" r="19.5"/></g>
<g id="n186"><circle class="b" cx="1060" cy="973" r="19.5"/></g>
<g id="n185"><circle class="b" cx="1057" cy="951" r="19.5"/></g>
<g id="n184"><circle class="b" cx="1076" cy="924" r="19.5"/></g>
<g id="n188"><circle class="m" cx="1254" cy="966" r="19.5"/></g>
<g id="n187"><circle class="m" cx="1265" cy="938" r="19.5"/></g>
<g id="n189"><circle class="b" cx="131" cy="939" r="19.5"/></g>
<g id="n191"><circle class="m" cx="274" cy="940" r="19.5"/></g>
<g id="n192"><circle class="m" cx="405" cy="932" r="19.5"/></g>
<g id="n193"><circle class="b" cx="515" cy="931" r="19.5"/></g>
<g id="n194"><circle class="m" cx="626" cy="923" r="19.5"/></g>
<g id="n196"><circle class="m" cx="581" cy="942" r="19.5"/></g>
<g id="n195"><circle class="m" cx="549" cy="943" r="19.5"/></g>
<g id="n197"><circle class="b" cx="473" cy="949" r="19.5"/></g>
<g id="n198"><circle class="m" cx="719" cy="937" r="19.5"/></g>
<g id="n199"><circle class="b" cx="772" cy="943" r="19.5"/></g>
<g id="n200"><circle class="m" cx="867" cy="933" r="19.5"/></g>
<g id="n201"><circle class="r" cx="850" cy="960" r="19.5"/></g>
<g id="n202"><circle class="m" cx="947" cy="955" r="19.5"/></g>
<g id="n203"><circle class="b" cx="311" cy="963" r="19.5"/></g>
<g id="n204"><circle class="m" cx="438" cy="957" r="19.5"/></g>
<g id="n205"><circle class="m" cx="358" cy="990" r="19.5"/></g>
<g id="n206"><circle class="m" cx="511" cy="989" r="19.5"/></g>
<g id="n207"><circle class="m" cx="916" cy="985" r="19.5"/></g>
<g id="n209"><circle class="m" cx="219" cy="1016" r="19.5"/></g>
<g id="n208"><circle class="b" cx="200" cy="989" r="19.5"/></g>
<g id="n210"><circle class="m" cx="207" cy="1037" r="19.5"/></g>
<g id="n211"><circle class="r" cx="410" cy="1010" r="19.5"/></g>
<g id="n212"><circle class="m" cx="432" cy="996" r="19.5"/></g>
<g id="n213"><circle class="b" cx="613" cy="1015" r="19.5"/></g>
<g id="n214"><circle class="r" cx="705" cy="1000" r="19.5"/></g>
<g id="n215"><circle class="g" cx="658" cy="1029" r="19.5"/></g>
<g id="n216"><circle class="g" cx="803" cy="1014" r="19.5"/></g>
<g id="n217"><circle class="m" cx="714" cy="1031" r="19.5"/></g>
<g id="n218"><circle class="m" cx="871" cy="1031" r="19.5"/></g>
<g id="n219"><circle class="r" cx="346" cy="1047" r="19.5"/></g>
<g id="n223"><circle class="r" cx="403" cy="1082" r="19.5"/></g>
<g id="n220"><circle class="m" cx="425" cy="1054" r="19.5"/></g>
<g id="n221"><circle class="r" cx="532" cy="1062" r="19.5"/></g>
<g id="n222"><circle class="m" cx="213" cy="1074" r="19.5"/></g>
<g id="n224"><circle class="m" cx="629" cy="1079" r="19.5"/></g>
<g id="n225"><circle class="b" cx="730" cy="1086" r="19.5"/></g>
<g id="n227"><circle class="m" cx="1025" cy="1112" r="19.5"/></g>
<g id="n226"><circle class="r" cx="1018" cy="1083" r="19.5"/></g>
<g id="n228"><circle class="b" cx="356" cy="1108" r="19.5"/></g>
<g id="n229"><circle class="m" cx="483" cy="1108" r="19.5"/></g>
<g id="n230"><circle class="b" cx="784" cy="1107" r="19.5"/></g>
<g id="n231"><circle class="r" cx="870" cy="1120" r="19.5"/></g>
<g id="n236"><circle class="b" cx="516" cy="1152" r="19.5"/></g>
<g id="n232"><circle class="m" cx="497" cy="1133" r="19.5"/></g>
<g id="n233"><circle class="m" cx="708" cy="1135" r="19.5"/></g>
<g id="n234"><circle class="m" cx="734" cy="1131" r="19.5"/></g>
<g id="n235"><circle class="b" cx="264" cy="1144" r="19.5"/></g>
<g id="n237"><circle class="m" cx="416" cy="1178" r="19.5"/></g>
<g id="n238"><circle class="m" cx="440" cy="1189" r="19.5"/></g>
<g id="n241"><circle class="b" cx="536" cy="1214" r="19.5"/></g>
<g id="n239"><circle class="r" cx="561" cy="1196" r="19.5"/></g>
<g id="n240"><circle class="m" cx="624" cy="1188" r="19.5"/></g>
<g id="n242"><circle class="b" cx="808" cy="1200" r="19.5"/></g>
<g id="n243"><circle class="b" cx="775" cy="1207" r="19.5"/></g>
<g id="n244"><circle class="m" cx="853" cy="1229" r="19.5"/></g>
<g id="n245"><circle class="b" cx="975" cy="1214" r="19.5"/></g>
<g id="n246"><circle class="m" cx="420" cy="1249" r="19.5"/></g>
<g id="n247"><circle class="m" cx="716" cy="1251" r="19.5"/></g>
</g>
</svg>
